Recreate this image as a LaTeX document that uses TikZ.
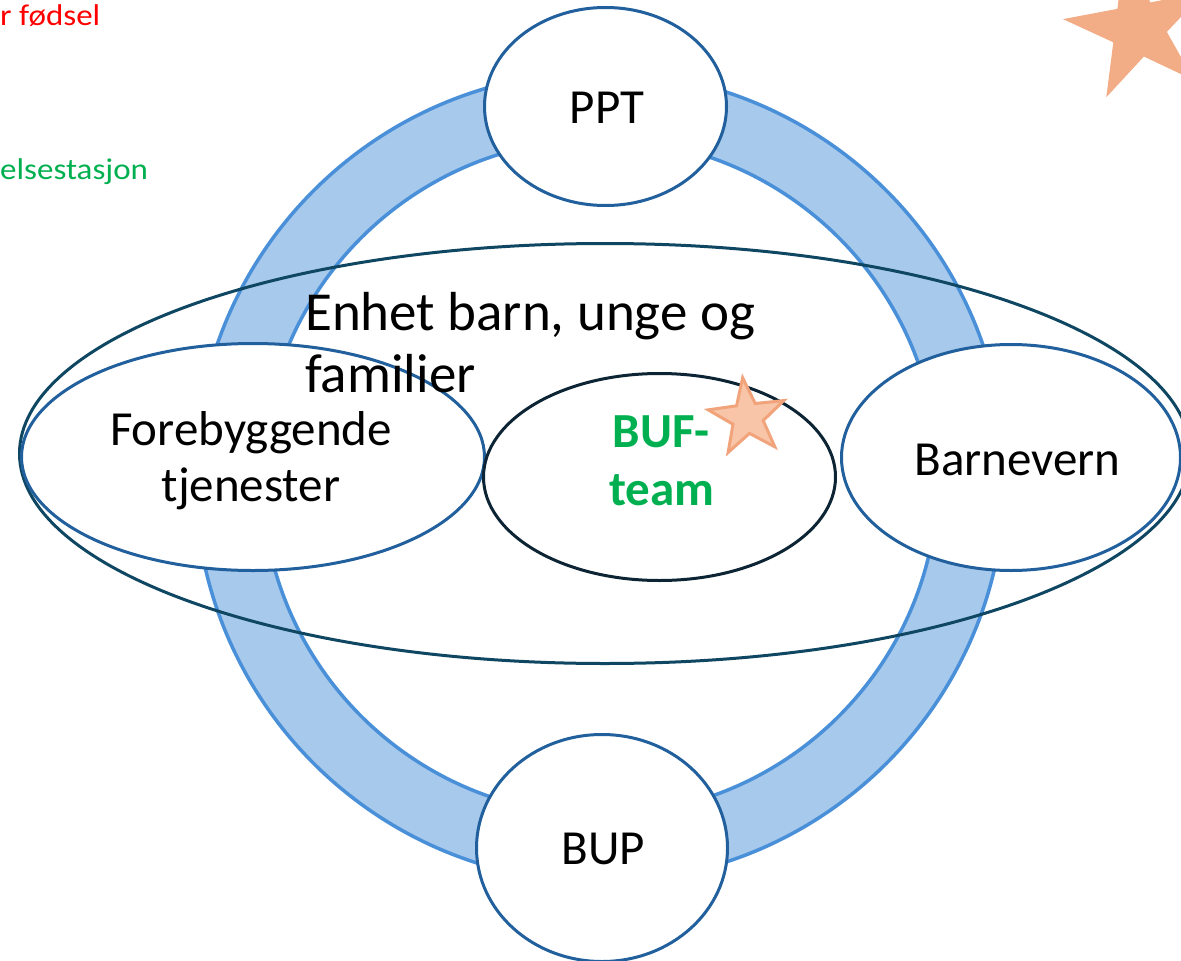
\documentclass[tikz,border=0pt]{standalone}
\usepackage{fontspec}
\setmainfont{Carlito}
\usetikzlibrary{shapes.geometric}

\definecolor{ringfill}{HTML}{A6C9EC}
\definecolor{ringline}{HTML}{4A90D9}
\definecolor{nodeline}{HTML}{21609D}
\definecolor{unitline}{HTML}{0F4762}
\definecolor{teamline}{HTML}{0C2433}
\definecolor{bufgreen}{HTML}{00B050}
\definecolor{starbig}{HTML}{F2AC86}
\definecolor{starfill}{HTML}{F8C5A8}
\definecolor{starline}{HTML}{F1A47B}

\tikzset{
  service/.style={ellipse, draw=nodeline, fill=white, line width=3pt, inner sep=0pt},
  unit/.style={ellipse, draw=unitline, line width=3pt, inner sep=0pt},
  team/.style={ellipse, draw=teamline, fill=white, line width=3pt, inner sep=0pt},
  lbl/.style={inner sep=0pt, anchor=base, font=\fontsize{49}{56}\selectfont},
  unitlbl/.style={inner sep=0pt, anchor=base west, font=\fontsize{55}{62}\selectfont},
  teamlbl/.style={inner sep=0pt, anchor=base, text=bufgreen, font=\fontsize{49}{56}\selectfont\bfseries},
  sidenote/.style={inner sep=0pt, anchor=base west,
    font=\fontsize{30}{36}\selectfont\addfontfeature{FakeStretch=1.1}},
  starmark/.style={star, star points=5, inner sep=0pt}
}

\begin{document}
\begin{tikzpicture}[x=1pt, y=-1pt]
  \useasboundingbox (0,0) rectangle (1181,961);
  \clip (0,0) rectangle (1181,961);

  % the collaboration ring
  \path[fill=ringfill, draw=ringline, line width=3.5pt, even odd rule]
    (600,477) circle[radius=405] (600,477) circle[radius=338];

  % the unit for children, youth and families
  \node[unit, minimum width=1171pt, minimum height=420pt] (unit) at (605,453.5) {};

  % services around the ring
  \node[service, minimum width=242pt, minimum height=198pt] (ppt) at (605.5,106.5) {};
  \node[service, minimum width=251pt, minimum height=227pt] (bup) at (602,848) {};
  \node[service, minimum width=463pt, minimum height=227pt] (fore) at (253,457) {};
  \node[service, minimum width=339pt, minimum height=226pt] (barnevern) at (1011,457.5) {};

  % the team in the middle
  \node[team, minimum width=352pt, minimum height=207pt] (buf) at (659.5,477) {};

  % stars
  \node[starmark, fill=starbig, minimum size=152pt, star point ratio=2.65,
        shape border rotate=11] (bigstar) at (1138.4,28.4) {};
  \node[starmark, fill=starfill, draw=starline, line width=3pt, minimum size=80pt,
        star point ratio=2.5, shape border rotate=7] (smallstar) at (747.5,417.5) {};

  % labels
  \node[lbl] (ppttext) at (607,123) {PPT};
  \node[lbl] (buptext) at (603.5,864) {BUP};
  \node[lbl] (barneverntext) at (1017.5,475) {Barnevern};
  \node[lbl] (foretext1) at (251,445) {Forebyggende};
  \node[lbl] (foretext2) at (251,501) {tjenester};
  \node[teamlbl] (buftext1) at (661,447) {BUF-};
  \node[teamlbl] (buftext2) at (662,505) {team};
  \node[unitlbl] (unittext1) at (305,330) {Enhet barn, unge og};
  \node[unitlbl] (unittext2) at (305,392) {familier};

  % notes at the left edge
  \node[sidenote, text=red] (note1) at (0,25) {r fødsel};
  \node[sidenote, text=bufgreen] (note2) at (0,179) {elsestasjon};
\end{tikzpicture}
\end{document}
